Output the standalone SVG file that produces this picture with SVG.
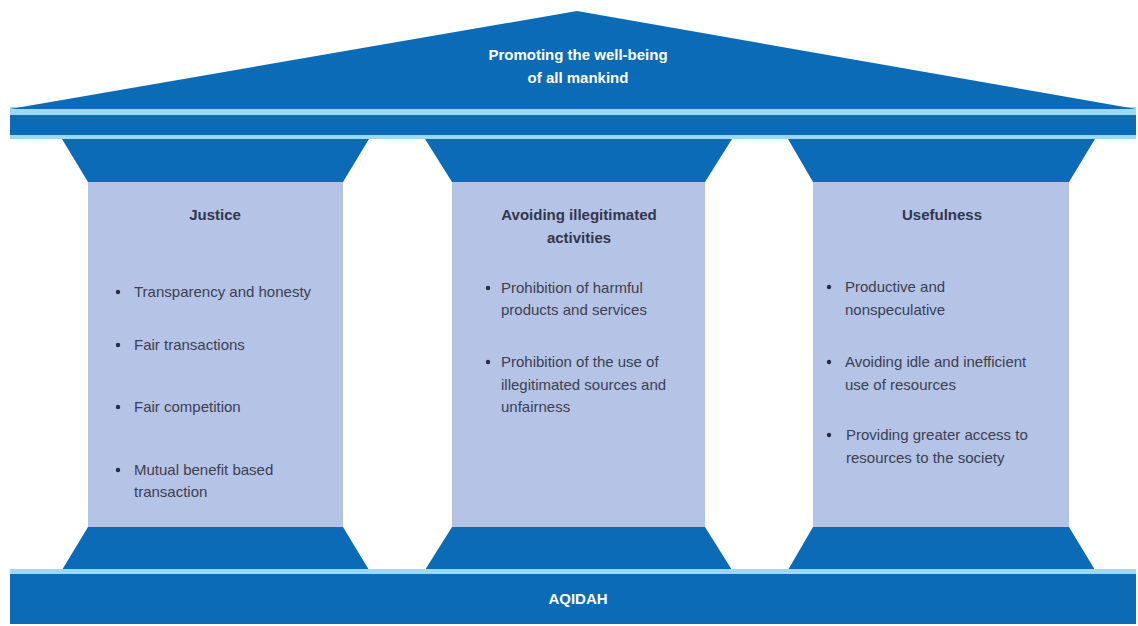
<svg xmlns="http://www.w3.org/2000/svg" width="1138" height="626" viewBox="0 0 1138 626">
  <style>
    .dark { fill: #0b6bb7; }
    .light { fill: #9fd8f4; }
    .shaft { fill: #b4c3e6; }
    .roof-text { font-family: "Liberation Sans", Arial, sans-serif; font-size: 15px; font-weight: bold; fill: #ffffff; text-anchor: middle; }
    .title { font-family: "Liberation Sans", Arial, sans-serif; font-size: 15px; font-weight: bold; fill: #33364a; text-anchor: middle; }
    .item { font-family: "Liberation Sans", Arial, sans-serif; font-size: 15px; fill: #3d4052; }
    .dot { fill: #2a2d40; }
  </style>
  <rect width="1138" height="626" fill="#ffffff"/>

  <!-- Roof: pediment and entablature -->
  <g id="roof">
    <rect class="light" x="10" y="107" width="1126" height="32"/>
    <polygon class="dark" points="577,11 1136,109 10,109"/>
    <rect class="dark" x="10" y="115" width="1126" height="20"/>
    <text class="roof-text" x="578" y="60">Promoting the well-being</text>
    <text class="roof-text" x="578" y="83">of all mankind</text>
  </g>

  <!-- Pillar 1: Justice -->
  <g id="pillar-justice">
    <polygon class="dark" points="62,139 369,139 343,182 88,182"/>
    <rect class="shaft" x="88" y="182" width="255" height="345"/>
    <polygon class="dark" points="88,527 343,527 369,570 62,570"/>
    <text class="title" x="215" y="220">Justice</text>
    <circle class="dot" cx="118" cy="292" r="2.2"/>
    <text class="item" x="134" y="297">Transparency and honesty</text>
    <circle class="dot" cx="118" cy="345" r="2.2"/>
    <text class="item" x="134" y="350">Fair transactions</text>
    <circle class="dot" cx="118" cy="407" r="2.2"/>
    <text class="item" x="134" y="412">Fair competition</text>
    <circle class="dot" cx="118" cy="470" r="2.2"/>
    <text class="item" x="134" y="475">Mutual benefit based</text>
    <text class="item" x="134" y="497">transaction</text>
  </g>

  <!-- Pillar 2: Avoiding illegitimated activities -->
  <g id="pillar-avoiding">
    <polygon class="dark" points="425,139 732,139 705,182 452,182"/>
    <rect class="shaft" x="452" y="182" width="253" height="345"/>
    <polygon class="dark" points="452,527 705,527 732,570 425,570"/>
    <text class="title" x="579" y="220">Avoiding illegitimated</text>
    <text class="title" x="579" y="243">activities</text>
    <circle class="dot" cx="488" cy="288" r="2.2"/>
    <text class="item" x="501" y="293">Prohibition of harmful</text>
    <text class="item" x="501" y="315">products and services</text>
    <circle class="dot" cx="488" cy="362" r="2.2"/>
    <text class="item" x="501" y="367">Prohibition of the use of</text>
    <text class="item" x="501" y="390">illegitimated sources and</text>
    <text class="item" x="501" y="412">unfairness</text>
  </g>

  <!-- Pillar 3: Usefulness -->
  <g id="pillar-usefulness">
    <polygon class="dark" points="788,139 1095,139 1069,182 813,182"/>
    <rect class="shaft" x="813" y="182" width="256" height="345"/>
    <polygon class="dark" points="813,527 1069,527 1095,570 788,570"/>
    <text class="title" x="942" y="220">Usefulness</text>
    <circle class="dot" cx="829" cy="287" r="2.2"/>
    <text class="item" x="845" y="292">Productive and</text>
    <text class="item" x="845" y="315">nonspeculative</text>
    <circle class="dot" cx="829" cy="362" r="2.2"/>
    <text class="item" x="845" y="367">Avoiding idle and inefficient</text>
    <text class="item" x="845" y="390">use of resources</text>
    <circle class="dot" cx="829" cy="435" r="2.2"/>
    <text class="item" x="846" y="440">Providing greater access to</text>
    <text class="item" x="846" y="463">resources to the society</text>
  </g>

  <!-- Foundation -->
  <g id="foundation">
    <rect class="light" x="10" y="569" width="1126" height="6"/>
    <rect class="dark" x="10" y="574" width="1126" height="50"/>
    <text class="roof-text" x="578" y="604">AQIDAH</text>
  </g>
</svg>
